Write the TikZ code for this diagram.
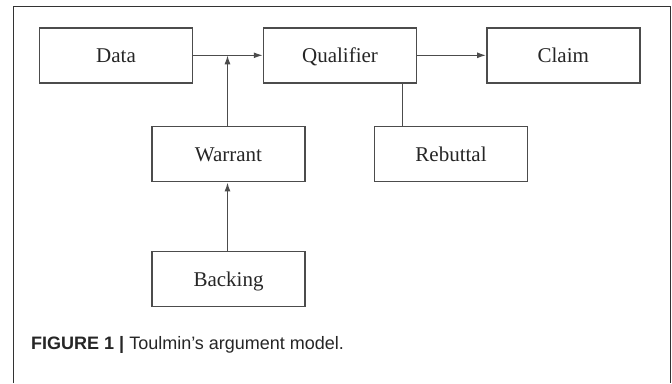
\documentclass[tikz,border=0pt]{standalone}
\usepackage{fontspec}
\setmainfont{Liberation Serif}
\newfontfamily\capfont{Liberation Sans}
\usetikzlibrary{arrows.meta}
\definecolor{boxline}{gray}{0.3}
\definecolor{frameline}{gray}{0.2}
\definecolor{txt}{gray}{0.15}
\begin{document}
\begin{tikzpicture}[x=1pt,y=-1pt,
  tbox/.style={draw=boxline,line width=1.5pt,fill=white,minimum width=153pt,minimum height=55pt,inner sep=0pt,text height=14pt,text depth=0pt,font=\fontsize{21}{24}\selectfont,text=txt},
  conn/.style={draw=boxline,line width=1.3pt},
  arr/.style={conn,-{Latex[length=9pt,width=6pt]}}]
\useasboundingbox (0,0) rectangle (672,383);
\fill[white] (0,0) rectangle (672,383);
\draw[frameline,line width=1pt] (13,383) -- (13,6.5) -- (670.5,6.5) -- (670.5,383);
\node[tbox] (data) at (116,55.3) {Data};
\node[tbox] (qual) at (340,55.3) {Qualifier};
\node[tbox] (claim) at (563.3,55.3) {Claim};
\node[tbox] (warrant) at (228.5,154.2) {Warrant};
\node[tbox] (rebuttal) at (451,154.2) {Rebuttal};
\node[tbox] (backing) at (228.5,279.2) {Backing};
\coordinate (join) at (227.5,55.3);
\draw[arr] (data.east) -- (qual.west);
\draw[arr] (qual.east) -- (claim.west);
\draw[arr] (warrant.north -| join) -- (join);
\draw[arr] (backing.north -| join) -- (warrant.south -| join);
\draw[conn] (qual.south -| rebuttal.north west) ++(29,0) coordinate (rq) -- (rq |- rebuttal.north);
\node[anchor=base west,inner sep=0pt,font=\capfont\fontsize{18}{20}\selectfont,text=black!85] (cap) at (31,349) {\textbf{FIGURE 1 |} Toulmin’s argument model.};
\end{tikzpicture}
\end{document}
